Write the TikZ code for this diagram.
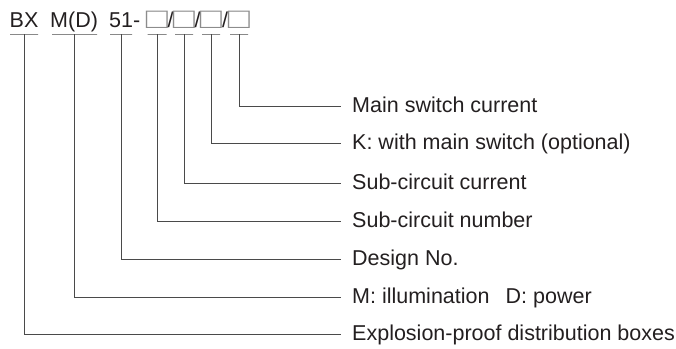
\documentclass[tikz,border=0pt]{standalone}
\usepackage{fontspec}
\setmainfont{Liberation Sans}
\usetikzlibrary{positioning}
\definecolor{ink}{HTML}{231F20}
\definecolor{wire}{HTML}{4A4A4A}
\definecolor{slotgray}{HTML}{8C8C8C}

\begin{document}
\begin{tikzpicture}[x=1pt, y=-1pt, font=\fontsize{21.5}{25}\selectfont, color=ink,
  code/.style={anchor=base west, inner sep=0pt},
  slot/.style={inner sep=0pt, text=slotgray},
  uline/.style={draw=wire, line width=0.8pt, inner sep=0pt, outer sep=0pt, minimum height=0pt},
  lbl/.style={anchor=west, inner xsep=11pt, inner ysep=0pt, text height=12pt, text depth=0pt},
  lead/.style={draw=wire, line width=0.8pt}]
  \useasboundingbox (0,0) rectangle (676,348);
  % model code
  \node[code] (bx) at (9.5,27) {BX};
  \node[code] (md) at (50,27) {M(D)};
  \node[code] (des) at (109,27) {51-};
  \node[slot] (s1) at (157,20) {\scalebox{1.7}[1.35]{□}};
  \node[code] (d1) at (167.5,27) {/};
  \node[slot] (s2) at (184,20) {\scalebox{1.7}[1.35]{□}};
  \node[code] (d2) at (194.5,27) {/};
  \node[slot] (s3) at (211,20) {\scalebox{1.7}[1.35]{□}};
  \node[code] (d3) at (222,27) {/};
  \node[slot] (s4) at (239,20) {\scalebox{1.7}[1.35]{□}};
  % underlines
  \node[uline, minimum width=28pt] (ubx) at (24,34) {};
  \node[uline, minimum width=45pt] (umd) at (74.5,34) {};
  \node[uline, minimum width=22pt] (udes) at (121,34) {};
  \node[uline, minimum width=19pt] (us1) at (157,34) {};
  \node[uline, minimum width=18pt] (us2) at (184,34) {};
  \node[uline, minimum width=18pt] (us3) at (211,34) {};
  \node[uline, minimum width=18pt] (us4) at (239,34) {};
  % meanings
  \node[lbl] (mainI) at (341,106) {Main switch current};
  \node[lbl] (mainK) at (341,143) {K: with main switch (optional)};
  \node[lbl] (subI) at (341,183) {Sub-circuit current};
  \node[lbl] (subN) at (341,221) {Sub-circuit number};
  \node[lbl] (desN) at (341,259) {Design No.};
  \node[lbl] (use) at (341,297) {M: illumination\hspace{0.75em}D: power};
  \node[lbl] (box) at (341,334) {Explosion-proof distribution boxes};
  % leaders
  \draw[lead] (us4) |- (mainI);
  \draw[lead] (us3) |- (mainK);
  \draw[lead] (us2) |- (subI);
  \draw[lead] (us1) |- (subN);
  \draw[lead] (udes) |- (desN);
  \draw[lead] (umd) |- (use);
  \draw[lead] (ubx) |- (box);
\end{tikzpicture}
\end{document}
